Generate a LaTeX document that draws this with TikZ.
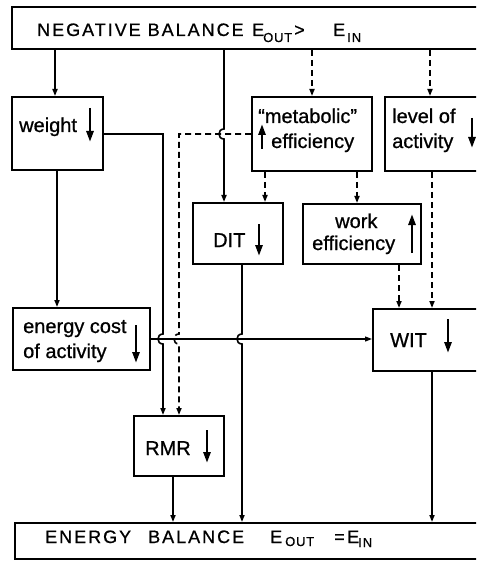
\documentclass[tikz,border=0pt]{standalone}
\usepackage{fontspec}
\setmainfont[FakeBold=0.6]{Liberation Sans}
\newfontfamily\lblfont[FakeBold=0.8]{Liberation Sans}
\newfontfamily\spacedfont[LetterSpace=11,FakeBold=0.8]{Liberation Sans}
\newfontfamily\subfont[LetterSpace=6,FakeBold=0.8]{Liberation Sans}
\usetikzlibrary{arrows.meta}
\begin{document}
\begin{tikzpicture}[x=1pt,y=-1pt,
 box/.style={draw, line width=2pt, rectangle, inner sep=0pt},
 lbl/.style={anchor=base west, inner sep=0pt, font=\lblfont\fontsize{20}{20}\selectfont},
 big/.style={anchor=base west, inner sep=0pt, font=\spacedfont\fontsize{18}{18}\selectfont},
 sub/.style={anchor=base west, inner sep=0pt, font=\subfont\fontsize{13}{13}\selectfont},
 conn/.style={line width=1.6pt, -{Triangle[length=7pt,width=5pt]}},
 thinconn/.style={line width=1.2pt, -{Triangle[length=7pt,width=5pt]}},
 dconn/.style={conn, dash pattern=on 6pt off 4pt},
 updown/.style={line width=2.6pt, -{Triangle[length=11pt,width=7pt]}}]
\clip (0,0) rectangle (476,561);
\fill[white] (0,0) rectangle (476,561);

% boxes
\node[box, minimum width=468pt, minimum height=42pt] (top) at (246,28) {};
\node[box, minimum width=91pt, minimum height=73pt] (weight) at (57.5,133.5) {};
\node[box, minimum width=120pt, minimum height=74pt] (metab) at (312,134) {};
\node[box, minimum width=95pt, minimum height=74pt] (level) at (432.5,134) {};
\node[box, minimum width=90pt, minimum height=61pt] (dit) at (238,233.5) {};
\node[box, minimum width=118pt, minimum height=60pt] (work) at (362,234) {};
\node[box, minimum width=137pt, minimum height=62pt] (ecost) at (81.5,339) {};
\node[box, minimum width=107pt, minimum height=62pt] (wit) at (426.5,340) {};
\node[box, minimum width=90pt, minimum height=60pt] (rmr) at (179,446) {};
\node[box, minimum width=465pt, minimum height=36pt] (bottom) at (247.5,541) {};

% top / bottom texts
\node[big] (t1) at (37,36) {NEGATIVE BALANCE};
\node[big] (t2) at (252,36) {E};
\node[sub] (t3) at (263,42) {OUT};
\node[big] (t4) at (294,36) {>};
\node[big] (t5) at (333,36) {E};
\node[sub] (t6) at (347,42) {I\hspace{1pt}N};
\node[big] (b1) at (45,543) {ENERGY};
\node[big] (b2) at (148,543) {BALANCE};
\node[big] (b3) at (270,543) {E};
\node[sub] (b4) at (285,546) {OUT};
\node[big] (b5) at (334,543) {=};
\node[big] (b6) at (347,543) {E};
\node[sub] (b7) at (358,547) {I\hspace{1pt}N};

% box labels
\node[lbl] (l1) at (19,132) {weight};
\node[lbl] (l2) at (258,123) {“metabolic”};
\node[lbl] (l3) at (271,148) {efficiency};
\node[lbl] (l4) at (392,123) {level of};
\node[lbl] (l5) at (392,148) {activity};
\node[lbl] (l6) at (335,228) {work};
\node[lbl] (l7) at (312,250) {efficiency};
\node[lbl] (l8) at (213,247) {DIT};
\node[lbl] (l9) at (23,333) {energy cost};
\node[lbl] (l10) at (23,358) {of activity};
\node[lbl] (l11) at (145,455) {RMR};
\node[lbl] (l12) at (390,347) {WIT};

% in-box arrows
\draw[updown] (90,108) -- (90,142);
\draw[updown] (262,149) -- (262,124);
\draw[updown] (472,118) -- (472,148);
\draw[updown] (412,253) -- (412,214);
\draw[updown] (259,224) -- (259,256);
\draw[updown] (136,325) -- (136,363);
\draw[updown] (207,430) -- (207,463);
\draw[updown] (448,319) -- (448,353);

% column coordinates
\coordinate (c55) at (55,0);
\coordinate (c57) at (57,0);
\coordinate (c163) at (163,0);
\coordinate (c173) at (173,0);
\coordinate (c179) at (179,0);
\coordinate (c224) at (224,0);
\coordinate (c242) at (242,0);
\coordinate (c265) at (265,0);
\coordinate (c312) at (312,0);
\coordinate (c357) at (357,0);
\coordinate (c399) at (399,0);
\coordinate (c430) at (430,0);
\coordinate (c432) at (432,0);
\coordinate (r134) at (0,134);
\coordinate (r339) at (0,339);

% connectors
\draw[conn] (top.south -| c55) -- (weight.north -| c55);
\draw[conn] (top.south -| c224) -- (224,129) .. controls (217.3,129) and (217.3,139) .. (224,139) -- (dit.north -| c224);
\draw[dconn] (top.south -| c312) -- (metab.north -| c312);
\draw[dconn] (top.south -| c430) -- (level.north -| c430);
\draw[conn] (weight.south -| c57) -- (ecost.north -| c57);
\draw[conn] (weight.east |- r134) -- (163,134) -- (163,334) .. controls (156.3,334) and (156.3,344) .. (163,344) -- (rmr.north -| c163);
\draw[dconn] (metab.west |- r134) -- (179,134) -- (179,334) .. controls (172.3,334) and (172.3,344) .. (179,344) -- (rmr.north -| c179);
\draw[dconn] (metab.south -| c265) -- (dit.north -| c265);
\draw[dconn] (metab.south -| c357) -- (work.north -| c357);
\draw[dconn] (work.south -| c399) -- (wit.north -| c399);
\draw[dconn] (level.south -| c432) -- (wit.north -| c432);
\draw[thinconn] (ecost.east |- r339) -- (wit.west |- r339);
\draw[conn] (dit.south -| c242) -- (242,334) .. controls (235.3,334) and (235.3,344) .. (242,344) -- (bottom.north -| c242);
\draw[conn] (rmr.south -| c173) -- (bottom.north -| c173);
\draw[conn] (wit.south -| c432) -- (bottom.north -| c432);
\end{tikzpicture}
\end{document}
